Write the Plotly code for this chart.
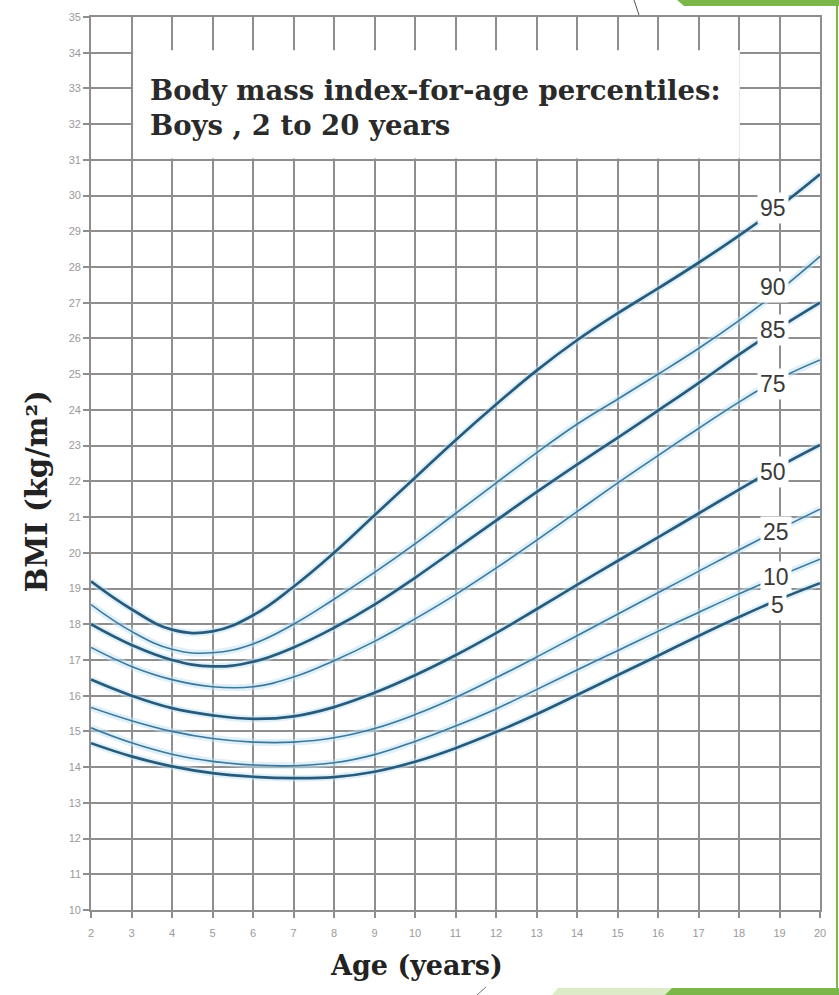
import plotly.graph_objects as go

# BMI-for-age percentile curves, boys 2 to 20 years (BMI in kg/m^2 at each whole year)
ages = list(range(2, 21))
p95 = [19.2, 18.42, 17.85, 17.8, 18.25, 19.05, 20.0, 21.05, 22.1, 23.15, 24.15, 25.1, 25.95, 26.7, 27.4, 28.12, 28.88, 29.7, 30.6]
p90 = [18.55, 17.8, 17.3, 17.2, 17.45, 18.0, 18.7, 19.45, 20.25, 21.1, 21.95, 22.8, 23.6, 24.3, 25.0, 25.72, 26.5, 27.35, 28.3]
p85 = [18.0, 17.42, 17.0, 16.82, 16.95, 17.35, 17.9, 18.55, 19.3, 20.1, 20.9, 21.7, 22.47, 23.22, 23.98, 24.75, 25.55, 26.3, 27.0]
p75 = [17.35, 16.82, 16.45, 16.25, 16.25, 16.52, 16.98, 17.52, 18.15, 18.83, 19.57, 20.35, 21.15, 21.95, 22.72, 23.48, 24.22, 24.88, 25.4]
p50 = [16.45, 16.0, 15.65, 15.45, 15.35, 15.42, 15.68, 16.08, 16.57, 17.13, 17.75, 18.42, 19.1, 19.77, 20.43, 21.1, 21.77, 22.42, 23.02]
p25 = [15.67, 15.3, 15.0, 14.8, 14.7, 14.7, 14.82, 15.08, 15.47, 15.95, 16.5, 17.08, 17.68, 18.28, 18.88, 19.48, 20.08, 20.66, 21.22]
p10 = [15.1, 14.68, 14.36, 14.16, 14.06, 14.04, 14.12, 14.35, 14.72, 15.15, 15.63, 16.17, 16.72, 17.26, 17.8, 18.33, 18.85, 19.35, 19.82]
p5 = [14.67, 14.3, 14.02, 13.83, 13.73, 13.69, 13.72, 13.87, 14.15, 14.53, 14.98, 15.48, 16.02, 16.57, 17.12, 17.67, 18.2, 18.7, 19.15]

percentiles = ["95", "90", "85", "75", "50", "25", "10", "5"]
series = [p95, p90, p85, p75, p50, p25, p10, p5]
major = {"95", "85", "50", "5"}

x_ticks = list(range(2, 21))
y_ticks = list(range(10, 36))

GRID = "#8e8e8e"
THICK = "#2a5a7a"
THIN = "#3f7798"
HALO = "rgba(190,226,246,0.5)"

fig = go.Figure()

# soft halo under each curve
for name, vals in zip(percentiles, series):
    fig.add_trace(go.Scatter(
        x=ages, y=vals, mode="lines", hoverinfo="skip",
        line=dict(color=HALO, width=7, shape="spline", smoothing=1.2),
    ))

for name, vals in zip(percentiles, series):
    fig.add_trace(go.Scatter(
        x=ages, y=vals, mode="lines", name=name,
        line=dict(color=THICK if name in major else THIN,
                  width=2.7 if name in major else 1.6,
                  shape="spline", smoothing=1.2),
    ))

# percentile labels near the right edge, on white patches that break the curves
label_pos = {
    "95": (18.83, 29.64), "90": (18.83, 27.45), "85": (18.83, 26.24),
    "75": (18.83, 24.73), "50": (18.83, 22.27), "25": (18.92, 20.59),
    "10": (18.92, 19.33), "5": (18.95, 18.53),
}
annotations = []
for name in percentiles:
    ax, ay = label_pos[name]
    annotations.append(dict(
        x=ax, y=ay, xref="x", yref="y", text=name, showarrow=False,
        font=dict(family="Liberation Sans, Arial, sans-serif", size=23, color="#3a3a3a"),
        bgcolor="white", borderpad=2,
    ))

# chart heading inside the grid
title_font = dict(family="DejaVu Serif, serif", size=27.5, color="#2a2a2a")
annotations.append(dict(x=3.4, y=32.96, xref="x", yref="y", xanchor="left", yanchor="middle",
                        text="<b>Body mass index-for-age percentiles:</b>",
                        showarrow=False, font=title_font))
annotations.append(dict(x=3.4, y=31.98, xref="x", yref="y", xanchor="left", yanchor="middle",
                        text="<b>Boys , 2 to 20 years</b>",
                        showarrow=False, font=title_font))

# axis titles
annotations.append(dict(x=0.447, y=-0.0627, xref="paper", yref="paper",
                        xanchor="center", yanchor="middle",
                        text="<b>Age (years)</b>", showarrow=False,
                        font=dict(family="DejaVu Serif, serif", size=27, color="#222222")))
annotations.append(dict(x=-0.074, y=0.469, xref="paper", yref="paper",
                        xanchor="center", yanchor="middle",
                        text="<b>BMI (kg/m²)</b>", textangle=-90, showarrow=False,
                        font=dict(family="DejaVu Serif, serif", size=29, color="#222222")))

shapes = [
    # white panel behind the heading
    dict(type="rect", xref="x", yref="y", x0=3.04, x1=18.02, y0=31.04, y1=34.07,
         fillcolor="white", line=dict(width=0), layer="between"),
]

# slide frame accents
def px(xp):
    return (xp - 91) / 729.0

def py(yp):
    return (910 - yp) / 893.0

GREEN = "#7ab648"
LIGHT_GREEN = "#dcecc8"
shapes += [
    dict(type="path", xref="paper", yref="paper",
         path=f"M {px(677)},{py(0)} L {px(839)},{py(0)} L {px(839)},{py(6)} L {px(684)},{py(6)} Z",
         fillcolor=GREEN, line=dict(width=0)),
    dict(type="path", xref="paper", yref="paper",
         path=f"M {px(558)},{py(988)} L {px(675)},{py(988)} L {px(668)},{py(995)} L {px(552)},{py(995)} Z",
         fillcolor=LIGHT_GREEN, line=dict(width=0)),
    dict(type="path", xref="paper", yref="paper",
         path=f"M {px(672)},{py(988)} L {px(839)},{py(988)} L {px(839)},{py(995)} L {px(665)},{py(995)} Z",
         fillcolor=GREEN, line=dict(width=0)),
    dict(type="line", xref="paper", yref="paper", x0=px(837), x1=px(837), y0=py(4), y1=py(988),
         line=dict(color=GREEN, width=2)),
    dict(type="line", xref="paper", yref="paper", x0=px(634), x1=px(639), y0=py(0), y1=py(15),
         line=dict(color="#555555", width=1)),
    dict(type="line", xref="paper", yref="paper", x0=px(486), x1=px(477), y0=py(987), y1=py(995),
         line=dict(color="#777777", width=1)),
]

axis_common = dict(
    showgrid=True, gridcolor=GRID, gridwidth=1.6,
    showline=True, linecolor=GRID, linewidth=1.6, mirror=True,
    ticks="outside", ticklen=6, tickcolor=GRID, tickwidth=1.6,
    tickfont=dict(family="Liberation Sans, Arial, sans-serif", size=11, color="#9a9a9a"),
    zeroline=False, fixedrange=True,
)

fig.update_layout(
    width=839, height=995, autosize=False,
    margin=dict(l=91, r=19, t=17, b=85),
    plot_bgcolor="white", paper_bgcolor="white",
    showlegend=False,
    annotations=annotations, shapes=shapes,
    xaxis=dict(range=[2, 20], tickvals=x_ticks, ticktext=[str(v) for v in x_ticks],
               ticklabelstandoff=6, **axis_common),
    yaxis=dict(range=[10, 35], tickvals=y_ticks, ticktext=[str(v) for v in y_ticks],
               **axis_common),
)

fig.write_html("out.html")
